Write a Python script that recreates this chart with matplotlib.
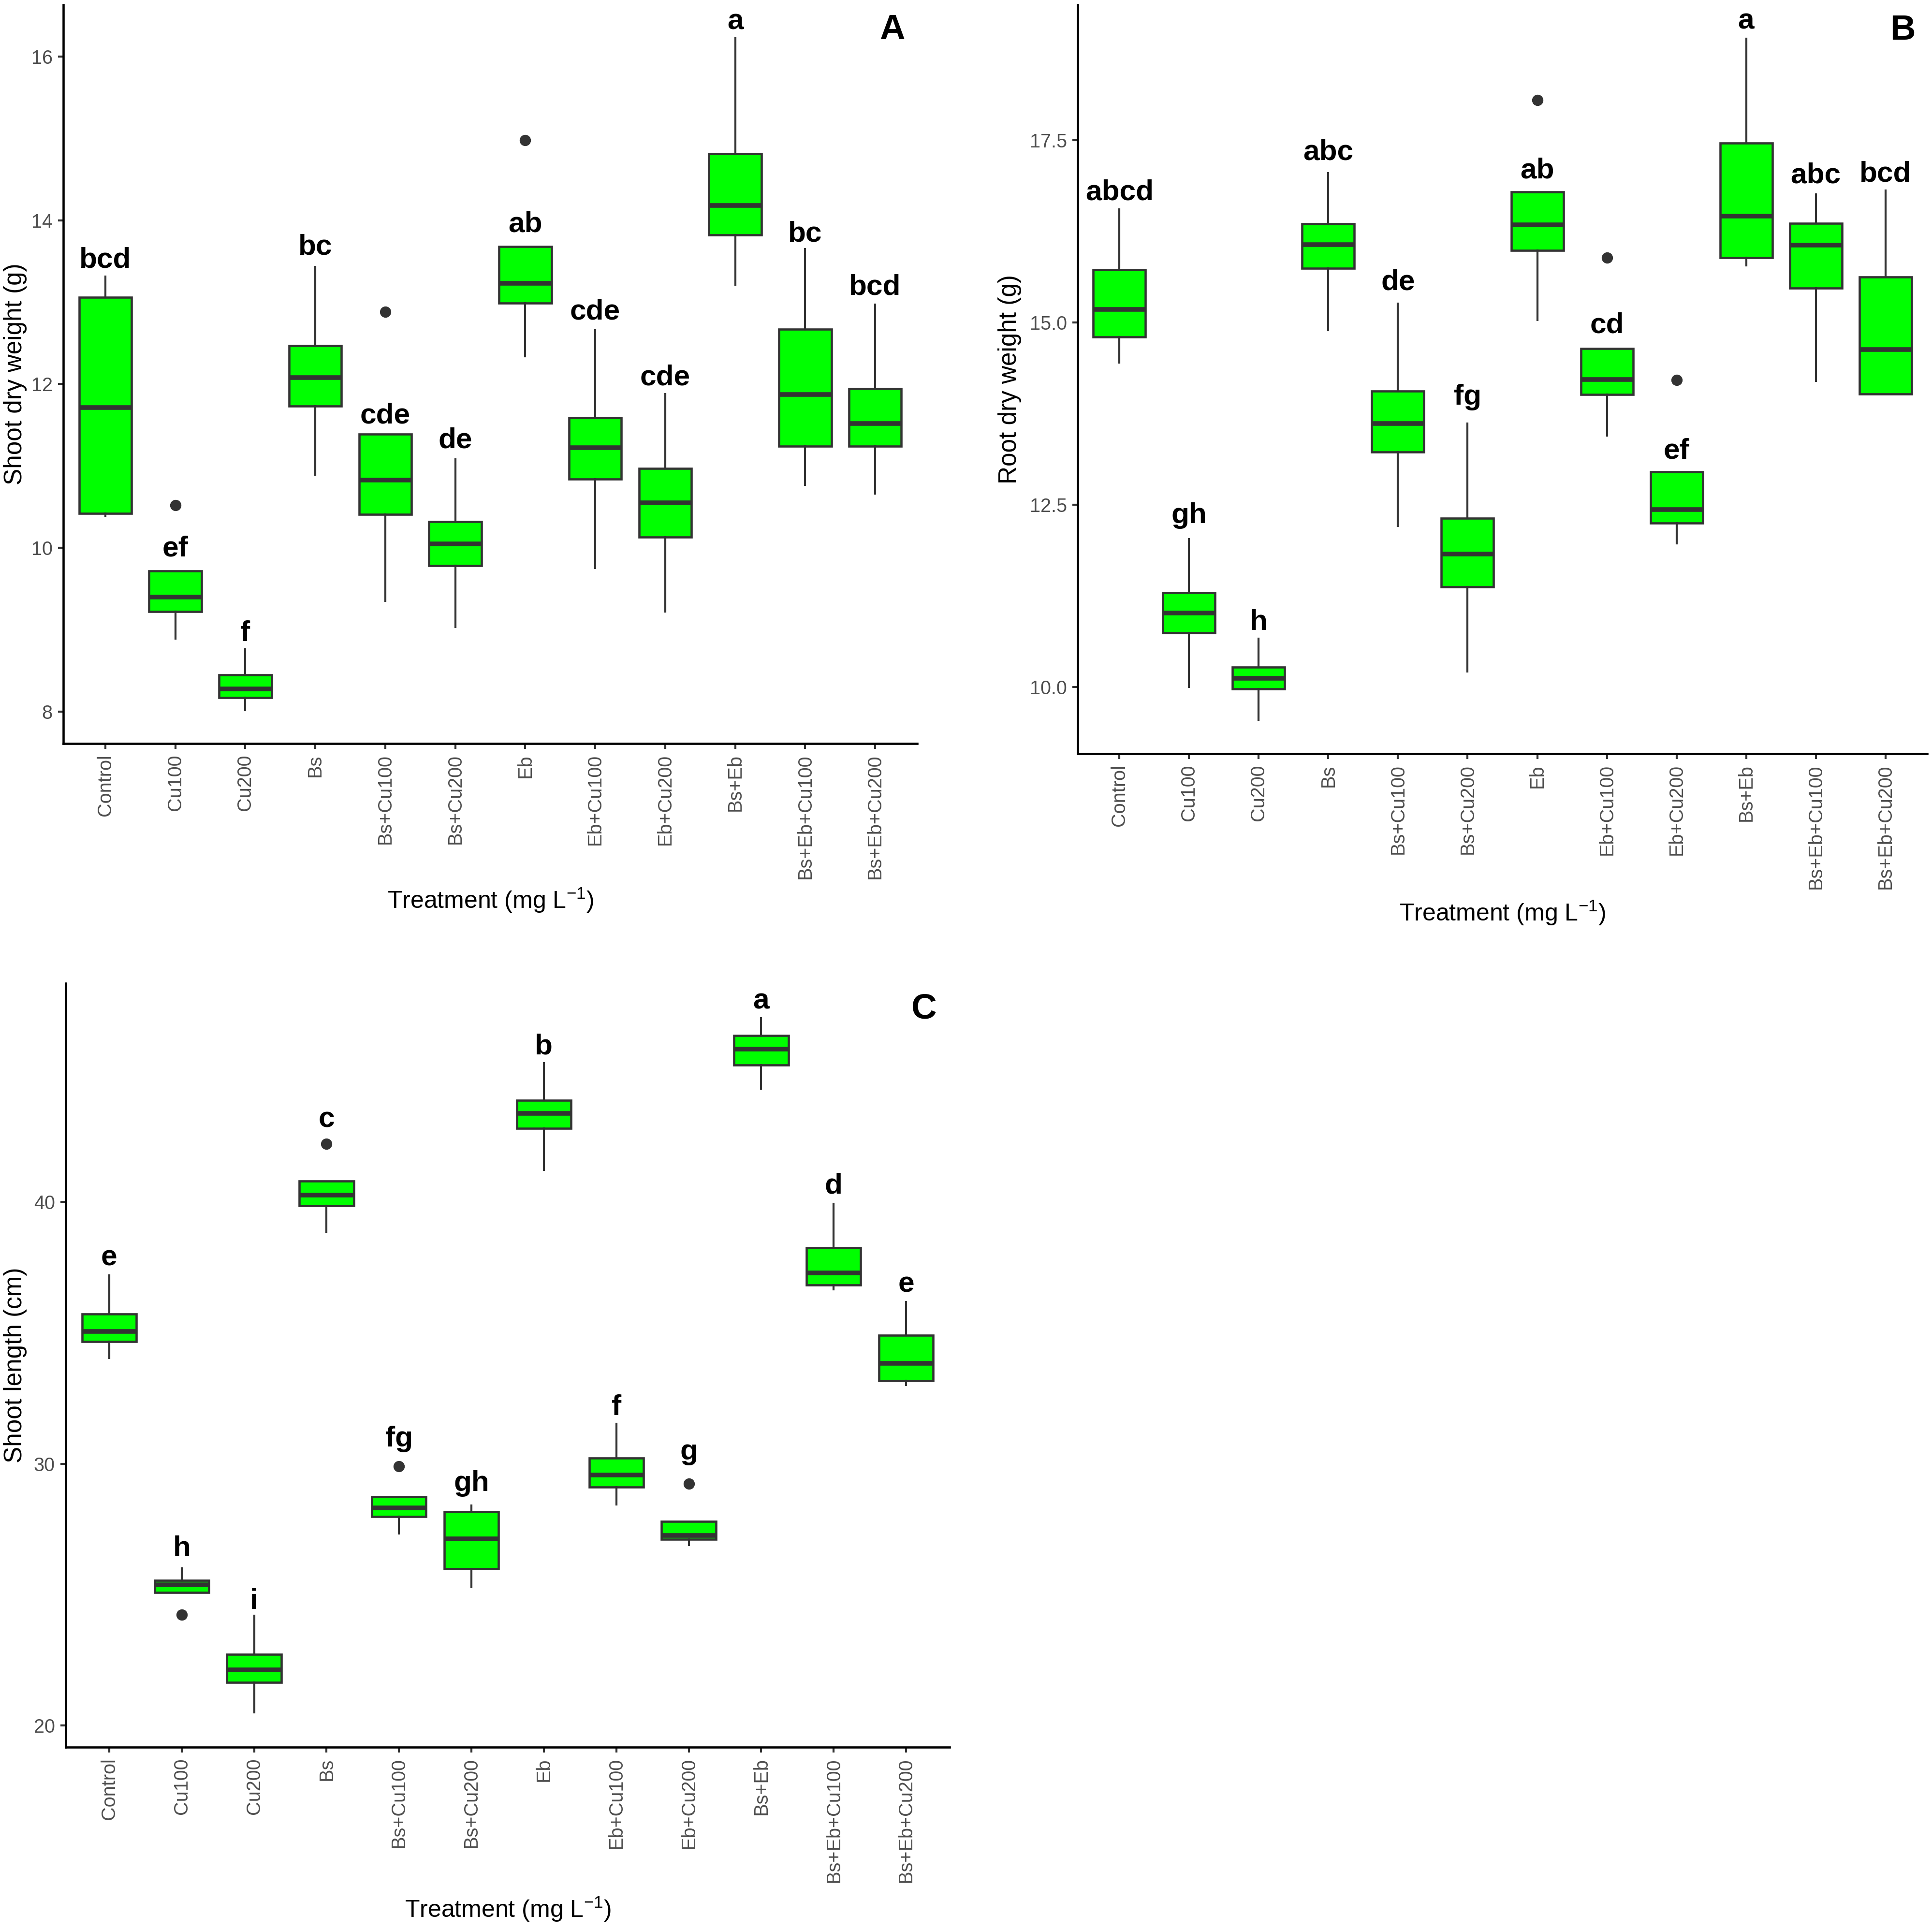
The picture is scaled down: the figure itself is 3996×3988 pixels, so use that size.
import matplotlib
matplotlib.use("Agg")
import matplotlib.pyplot as plt

plt.rcParams["font.family"] = ["Liberation Sans", "DejaVu Sans"]
plt.rcParams["mathtext.fontset"] = "custom"
plt.rcParams["mathtext.rm"] = "Liberation Sans"
plt.rcParams["mathtext.default"] = "regular"

treatments = ["Control", "Cu100", "Cu200", "Bs", "Bs+Cu100", "Bs+Cu200", "Eb",
              "Eb+Cu100", "Eb+Cu200", "Bs+Eb", "Bs+Eb+Cu100", "Bs+Eb+Cu200"]

# panel A - shoot dry weight (g)
a_lo  = [10.39, 8.89, 8.02, 10.89, 9.35, 9.03, 12.34, 9.75, 9.22, 13.21, 10.77, 10.66]
a_q1  = [10.42, 9.22, 8.17, 11.73, 10.41, 9.78, 12.99, 10.84, 10.13, 13.82, 11.24, 11.24]
a_med = [11.71, 9.40, 8.28, 12.08, 10.83, 10.05, 13.23, 11.22, 10.55, 14.18, 11.87, 11.52]
a_q3  = [13.06, 9.72, 8.45, 12.47, 11.39, 10.32, 13.68, 11.59, 10.97, 14.81, 12.67, 11.94]
a_hi  = [13.31, 9.72, 8.76, 13.43, 11.39, 11.08, 13.68, 12.66, 11.88, 16.22, 13.65, 12.97]
a_out = [[], [10.52], [], [], [12.88], [], [14.98], [], [], [], [], []]
a_sig = ["bcd", "ef", "f", "bc", "cde", "de", "ab", "cde", "cde", "a", "bc", "bcd"]
a_sig_y = [13.42, 9.90, 8.86, 13.58, 11.52, 11.22, 13.86, 12.79, 11.99, 16.33, 13.74, 13.09]

# panel B - root dry weight (g)
b_lo  = [14.45, 10.00, 9.55, 14.89, 12.21, 10.21, 15.03, 13.45, 11.97, 15.78, 14.20, 14.02]
b_q1  = [14.80, 10.74, 9.97, 15.74, 13.22, 11.37, 15.99, 14.01, 12.25, 15.89, 15.47, 14.02]
b_med = [15.18, 11.01, 10.12, 16.07, 13.61, 11.82, 16.34, 14.22, 12.43, 16.46, 16.06, 14.63]
b_q3  = [15.72, 11.29, 10.27, 16.35, 14.06, 12.31, 16.79, 14.64, 12.95, 17.46, 16.36, 15.62]
b_hi  = [16.55, 12.03, 10.66, 17.05, 15.26, 13.61, 16.79, 14.64, 12.95, 18.89, 16.76, 16.81]
b_out = [[], [], [], [], [], [], [18.05], [15.89], [14.21], [], [], []]
b_sig = ["abcd", "gh", "h", "abc", "de", "fg", "ab", "cd", "ef", "a", "abc", "bcd"]
b_sig_y = [16.68, 12.25, 10.78, 17.23, 15.45, 13.87, 16.98, 14.86, 13.13, 19.03, 16.91, 16.93]

# panel C - shoot length (cm)
c_lo  = [34.04, 25.08, 20.50, 38.86, 27.34, 25.28, 41.22, 28.44, 26.90, 44.32, 36.66, 33.00]
c_q1  = [34.66, 25.08, 21.64, 39.86, 27.98, 25.98, 42.80, 29.10, 27.12, 45.22, 36.82, 33.16]
c_med = [35.06, 25.38, 22.12, 40.26, 28.32, 27.14, 43.38, 29.56, 27.26, 45.84, 37.28, 33.84]
c_q3  = [35.72, 25.54, 22.72, 40.80, 28.74, 28.16, 43.88, 30.22, 27.80, 46.36, 38.24, 34.90]
c_hi  = [37.20, 26.00, 24.20, 40.80, 28.74, 28.40, 45.30, 31.52, 27.80, 47.02, 39.92, 36.18]
c_out = [[], [24.24], [], [42.22], [29.90], [], [], [], [29.24], [], [], []]
c_sig = ["e", "h", "i", "c", "fg", "gh", "b", "f", "g", "a", "d", "e"]
c_sig_y = [37.58, 26.46, 24.46, 42.86, 30.66, 28.96, 45.64, 31.86, 30.16, 47.38, 40.32, 36.56]

a_ticks = [8, 10, 12, 14, 16]
b_ticks = [10.0, 12.5, 15.0, 17.5]
c_ticks = [20, 30, 40]

W, H = 3996, 3988
fig = plt.figure(figsize=(W / 300, H / 300), dpi=300)

def px_rect(left, top, right, bottom):
    return [left / W, 1 - bottom / H, (right - left) / W, (bottom - top) / H]

def panel(rect, lo, q1, med, q3, hi, out, sig, sig_y, ticks, tickfmt,
          ylabel, letter, ylab_x):
    ax = fig.add_axes(rect)
    stats = []
    for i in range(len(treatments)):
        stats.append(dict(whislo=lo[i], q1=q1[i], med=med[i], q3=q3[i],
                          whishi=hi[i], fliers=out[i]))
    pos = list(range(1, len(treatments) + 1))
    ax.bxp(stats, positions=pos, widths=0.75, patch_artist=True, showcaps=False,
           boxprops=dict(facecolor="#00FF00", edgecolor="#333333", linewidth=1.1),
           medianprops=dict(color="#333333", linewidth=2.3),
           whiskerprops=dict(color="#333333", linewidth=1.0),
           flierprops=dict(marker="o", markersize=4.6, markerfacecolor="#333333",
                           markeredgecolor="#333333"))
    for p, s, y in zip(pos, sig, sig_y):
        ax.text(p, y, s, ha="center", va="baseline", fontsize=14.5,
                fontweight="bold", color="black")
    # ggplot-like 5% expansion
    allv = lo + hi + [v for o in out for v in o]
    dmin, dmax = min(allv), max(allv)
    pad = 0.05 * (dmax - dmin)
    ax.set_ylim(dmin - pad, dmax + pad)
    ax.set_xlim(0.4, len(treatments) + 0.6)
    ax.set_yticks(ticks)
    ax.set_yticklabels([tickfmt.format(t) for t in ticks])
    ax.set_xticks(pos)
    ax.set_xticklabels(treatments, rotation=90)
    for sp in ["top", "right"]:
        ax.spines[sp].set_visible(False)
    for sp in ["left", "bottom"]:
        ax.spines[sp].set_linewidth(1.1)
        ax.spines[sp].set_color("black")
    ax.tick_params(direction="out", length=2.75, width=1.0, color="#333333",
                   labelsize=9.5, labelcolor="#4D4D4D", pad=2.6)
    ax.set_ylabel(ylabel, fontsize=12.3, color="black", va="center")
    ax.yaxis.set_label_coords(ylab_x, 0.5)
    ax.set_xlabel("Treatment (mg L$^{-1}$)", fontsize=12.0, color="black", va="center")
    ax.xaxis.set_label_coords(0.5, -0.2125)
    ax.text(0.971, 0.966, letter, transform=ax.transAxes, ha="center",
            va="center", fontsize=17.5, fontweight="bold")
    return ax

panel(px_rect(131, 10, 1897, 1538), a_lo, a_q1, a_med, a_q3, a_hi, a_out,
      a_sig, a_sig_y, a_ticks, "{:.0f}", "Shoot dry weight (g)", "A", -0.0566)
panel(px_rect(2229, 10, 3986, 1559), b_lo, b_q1, b_med, b_q3, b_hi, b_out,
      b_sig, b_sig_y, b_ticks, "{:.1f}", "Root dry weight (g)", "B", -0.0797)
panel(px_rect(136, 2034, 1964, 3614), c_lo, c_q1, c_med, c_q3, c_hi, c_out,
      c_sig, c_sig_y, c_ticks, "{:.0f}", "Shoot length (cm)", "C", -0.0574)

fig.savefig("out.png", dpi=300)
